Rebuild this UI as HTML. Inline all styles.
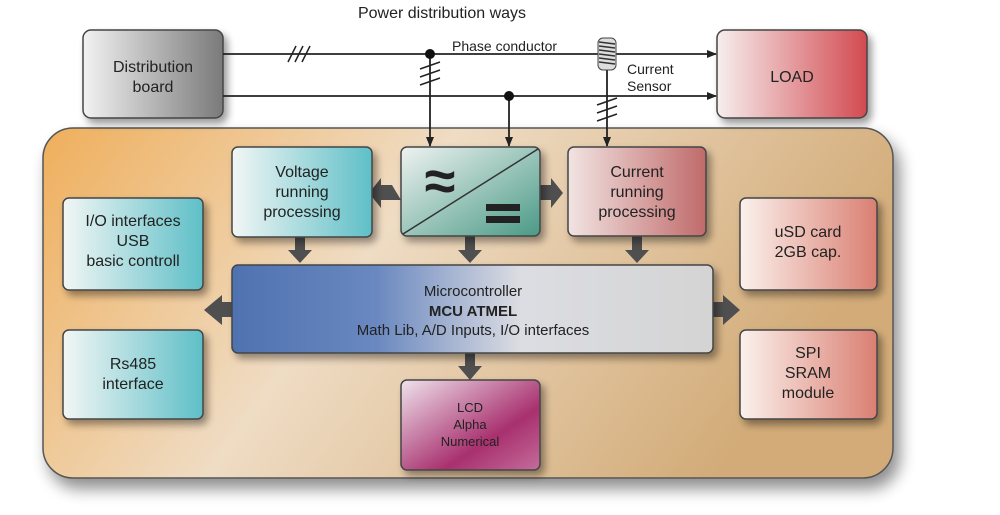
<!DOCTYPE html>
<html><head><meta charset="utf-8"><style>
body{margin:0;background:#fff;}
svg{display:block;font-family:"Liberation Sans",sans-serif;}
</style></head><body>
<svg width="1000" height="515" viewBox="0 0 1000 515" xmlns="http://www.w3.org/2000/svg">
<defs>
<filter id="sh" x="-20%" y="-20%" width="140%" height="150%"><feGaussianBlur in="SourceAlpha" stdDeviation="8"/><feOffset dx="6" dy="10"/><feComponentTransfer><feFuncA type="linear" slope="0.45"/></feComponentTransfer><feMerge><feMergeNode/><feMergeNode in="SourceGraphic"/></feMerge></filter>
<filter id="sh2" x="-20%" y="-20%" width="150%" height="150%"><feGaussianBlur in="SourceAlpha" stdDeviation="4"/><feOffset dx="4" dy="5"/><feComponentTransfer><feFuncA type="linear" slope="0.4"/></feComponentTransfer><feMerge><feMergeNode/><feMergeNode in="SourceGraphic"/></feMerge></filter>
<linearGradient id="gOr" x1="0" y1="0" x2="1" y2="0.3"><stop offset="0" stop-color="#efaf5c"/><stop offset="0.45" stop-color="#efdcc4"/><stop offset="1" stop-color="#d2ab78"/></linearGradient>
<linearGradient id="gGray" x1="0" x2="1"><stop offset="0" stop-color="#f2f2f2"/><stop offset="1" stop-color="#7a7a7a"/></linearGradient>
<linearGradient id="gRed" x1="0" x2="1"><stop offset="0" stop-color="#f7eeee"/><stop offset="1" stop-color="#d24a50"/></linearGradient>
<linearGradient id="gTeal" x1="0" x2="1"><stop offset="0" stop-color="#f2f6f5"/><stop offset="1" stop-color="#5ebfc7"/></linearGradient>
<linearGradient id="gConv" x1="0" y1="0" x2="1" y2="1"><stop offset="0" stop-color="#eef2f0"/><stop offset="1" stop-color="#4a9a86"/></linearGradient>
<linearGradient id="gPink" x1="0" x2="1"><stop offset="0" stop-color="#f1e4e2"/><stop offset="1" stop-color="#c06a6a"/></linearGradient>
<linearGradient id="gSal" x1="0" x2="1"><stop offset="0" stop-color="#fbf1ec"/><stop offset="1" stop-color="#da7f72"/></linearGradient>
<linearGradient id="gMcu" x1="0" x2="1"><stop offset="0" stop-color="#4f72b0"/><stop offset="0.3" stop-color="#6a88c0"/><stop offset="0.6" stop-color="#dcdde2"/><stop offset="1" stop-color="#d4d4d4"/></linearGradient>
<linearGradient id="gLcd" x1="0" y1="0" x2="1" y2="1"><stop offset="0" stop-color="#efe3ec"/><stop offset="0.65" stop-color="#a8306e"/><stop offset="1" stop-color="#c56d9c"/></linearGradient>
<marker id="ar" markerWidth="10" markerHeight="10" refX="9" refY="5" orient="auto" markerUnits="userSpaceOnUse"><path d="M0,1 L10,5 L0,9 Z" fill="#222"/></marker>
</defs>

<text x="442" y="18" font-size="16" text-anchor="middle" fill="#222">Power distribution ways</text>

<!-- container -->
<rect x="43" y="128" width="850" height="350" rx="30" fill="url(#gOr)" stroke="#555" stroke-width="1.5" filter="url(#sh)"/>

<!-- top boxes -->
<rect x="83" y="30" width="140" height="88" rx="8" fill="url(#gGray)" stroke="#444" stroke-width="1.5" filter="url(#sh2)"/>
<text x="153" y="72" font-size="16" text-anchor="middle" fill="#222">Distribution</text>
<text x="153" y="92" font-size="16" text-anchor="middle" fill="#222">board</text>
<rect x="717" y="30" width="150" height="88" rx="8" fill="url(#gRed)" stroke="#444" stroke-width="1.5" filter="url(#sh2)"/>
<text x="792" y="82" font-size="16" text-anchor="middle" fill="#222">LOAD</text>

<!-- lines -->
<g stroke="#222" stroke-width="1.8" fill="none">
<line x1="223" y1="54" x2="716" y2="54" marker-end="url(#ar)"/>
<line x1="223" y1="96" x2="716" y2="96" marker-end="url(#ar)"/>
<line x1="430" y1="54" x2="430" y2="146" marker-end="url(#ar)"/>
<line x1="509" y1="96" x2="509" y2="146" marker-end="url(#ar)"/>
<line x1="607" y1="68" x2="607" y2="146" marker-end="url(#ar)"/>
<path d="M288,62 L296,46 M295,62 L303,46 M302,62 L310,46" stroke-width="1.5"/>
<path d="M420,69 L440,62 M420,77 L440,70 M420,85 L440,78" stroke-width="1.5"/>
<path d="M597,105 L617,98 M597,113 L617,106 M597,121 L617,114" stroke-width="1.5"/>
</g>
<circle cx="430" cy="54" r="5" fill="#111"/>
<circle cx="509" cy="96" r="5" fill="#111"/>
<rect x="598" y="38" width="18" height="32" rx="5" fill="#ddd" stroke="#444"/>
<g stroke="#333" stroke-width="1.5"><line x1="599" y1="42" x2="615" y2="44"/><line x1="599" y1="46" x2="615" y2="48"/><line x1="599" y1="50" x2="615" y2="52"/><line x1="599" y1="54" x2="615" y2="56"/><line x1="599" y1="58" x2="615" y2="60"/><line x1="599" y1="62" x2="615" y2="64"/></g>
<text x="452" y="51" font-size="14" fill="#222">Phase conductor</text>
<text x="627" y="74" font-size="14" fill="#222">Current</text>
<text x="627" y="91" font-size="14" fill="#222">Sensor</text>

<!-- thick arrows -->
<g fill="#4f4f4f">
<path d="M392,185 L381,185 L381,178 L369,193 L381,208 L381,200 L401,200 Z"/>
<path d="M540,185 L551,185 L551,178 L563,193 L551,208 L551,200 L540,200 Z"/>
<path d="M295,237 L305,237 L305,250 L312,250 L300,263 L288,250 L295,250 Z"/>
<path d="M465,236 L475,236 L475,250 L482,250 L470,263 L458,250 L465,250 Z"/>
<path d="M632,236 L642,236 L642,250 L649,250 L637,263 L625,250 L632,250 Z"/>
<path d="M465,353 L475,353 L475,366 L482,366 L470,380 L458,366 L465,366 Z"/>
<path d="M232,302 L222,302 L222,295 L204,310 L222,325 L222,317 L232,317 Z"/>
<path d="M713,302 L723,302 L723,295 L740,310 L723,325 L723,317 L713,317 Z"/>
</g>

<!-- inner boxes -->
<g stroke="#444" stroke-width="1.5" filter="url(#sh2)">
<rect x="232" y="147" width="140" height="90" rx="6" fill="url(#gTeal)"/>
<rect x="401" y="147" width="139" height="89" rx="6" fill="url(#gConv)"/>
<rect x="568" y="147" width="138" height="89" rx="6" fill="url(#gPink)"/>
<rect x="63" y="198" width="140" height="92" rx="6" fill="url(#gTeal)"/>
<rect x="740" y="198" width="137" height="92" rx="6" fill="url(#gSal)"/>
<rect x="232" y="265" width="481" height="88" rx="6" fill="url(#gMcu)"/>
<rect x="63" y="330" width="140" height="89" rx="6" fill="url(#gTeal)"/>
<rect x="740" y="330" width="137" height="89" rx="6" fill="url(#gSal)"/>
<rect x="401" y="380" width="139" height="90" rx="6" fill="url(#gLcd)"/>
</g>
<line x1="403" y1="234" x2="538" y2="149" stroke="#333" stroke-width="1.5"/>
<text x="440" y="200" font-size="56" text-anchor="middle" fill="#222" font-weight="bold">≈</text>
<rect x="486" y="204" width="34" height="7" fill="#222"/>
<rect x="486" y="216" width="34" height="7" fill="#222"/>

<g font-size="16" text-anchor="middle" fill="#222">
<text x="302" y="177">Voltage</text><text x="302" y="197">running</text><text x="302" y="217">processing</text>
<text x="637" y="177">Current</text><text x="637" y="197">running</text><text x="637" y="217">processing</text>
<text x="133" y="226">I/O interfaces</text><text x="133" y="246">USB</text><text x="133" y="266">basic controll</text>
<text x="808" y="237">uSD card</text><text x="808" y="257">2GB cap.</text>
<text x="133" y="369">Rs485</text><text x="133" y="389">interface</text>
<text x="808" y="358">SPI</text><text x="808" y="378">SRAM</text><text x="808" y="398">module</text>
<text x="473" y="296" font-size="15">Microcontroller</text>
<text x="473" y="316" font-size="15" font-weight="bold">MCU ATMEL</text>
<text x="473" y="335" font-size="15">Math Lib, A/D Inputs, I/O interfaces</text>
<text x="470" y="412" font-size="13">LCD</text><text x="470" y="429" font-size="13">Alpha</text><text x="470" y="446" font-size="13">Numerical</text>
</g>
</svg>
</body></html>
